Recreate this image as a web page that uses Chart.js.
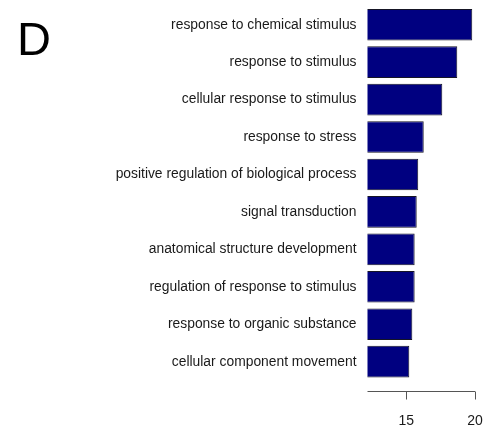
<!DOCTYPE html>
<html>
<head>
<meta charset="utf-8">
<script src="https://cdn.jsdelivr.net/npm/chart.js@4"></script>
<style>
  html, body { margin: 0; padding: 0; background: #fff; }
  #wrap { position: relative; width: 484px; height: 428px; }
  #panel { position: absolute; left: 17px; top: 15px; font-family: "Liberation Sans", Arial, sans-serif; font-size: 47px; color: #000; line-height: 1; }
</style>
</head>
<body>
<div id="wrap">
  <canvas id="c" width="484" height="428"></canvas>
  <div id="panel">D</div>
</div>
<script>
const categories = [
  "response to chemical stimulus",
  "response to stimulus",
  "cellular response to stimulus",
  "response to stress",
  "positive regulation of biological process",
  "signal transduction",
  "anatomical structure development",
  "regulation of response to stimulus",
  "response to organic substance",
  "cellular component movement"
];
const values = [19.80, 18.71, 17.62, 16.27, 15.87, 15.76, 15.61, 15.61, 15.44, 15.22];
const xTicks = [15, 20];
const xMin = 12.18;
const xMax = 20;

const axisPlugin = {
  id: 'rAxis',
  afterDraw(chart) {
    const x = chart.scales.x;
    const area = chart.chartArea;
    const ctx = chart.ctx;
    const y0 = Math.round(area.bottom + 11) + 0.5;
    ctx.save();
    ctx.strokeStyle = '#555';
    ctx.lineWidth = 1;
    ctx.beginPath();
    ctx.moveTo(area.left, y0);
    ctx.lineTo(x.getPixelForValue(xTicks[xTicks.length - 1]), y0);
    xTicks.forEach(t => {
      const px = Math.round(x.getPixelForValue(t)) + 0.5;
      ctx.moveTo(px, y0);
      ctx.lineTo(px, y0 + 8);
    });
    ctx.stroke();
    ctx.restore();
  }
};

new Chart(document.getElementById('c'), {
  type: 'bar',
  data: {
    labels: categories,
    datasets: [{
      data: values,
      backgroundColor: '#000080',
      borderColor: '#151525',
      borderWidth: 1,
      borderSkipped: false,
      barPercentage: 0.845,
      categoryPercentage: 1
    }]
  },
  options: {
    indexAxis: 'y',
    responsive: false,
    animation: false,
    layout: { padding: { top: 6, right: 9, left: 0, bottom: 0 } },
    plugins: { legend: { display: false }, tooltip: { enabled: false } },
    scales: {
      x: {
        type: 'linear',
        min: xMin,
        max: xMax,
        afterBuildTicks: (s) => { s.ticks = xTicks.map(v => ({ value: v })); },
        afterFit: (s) => { s.height = 47.6; s.paddingLeft = 0; s.paddingRight = 0; },
        grid: { display: false, drawTicks: false },
        border: { display: false },
        ticks: {
          padding: 32,
          color: '#1a1a1a',
          maxRotation: 0,
          font: { family: '"Liberation Sans", Arial, sans-serif', size: 14 }
        }
      },
      y: {
        type: 'category',
        afterFit: (s) => { s.width = 367.5; s.paddingTop = 0; s.paddingBottom = 0; },
        grid: { display: false, drawTicks: false },
        border: { display: false },
        ticks: {
          padding: 11,
          color: '#1a1a1a',
          font: { family: '"Liberation Sans", Arial, sans-serif', size: 13.85 }
        }
      }
    }
  },
  plugins: [axisPlugin]
});
</script>
</body>
</html>
